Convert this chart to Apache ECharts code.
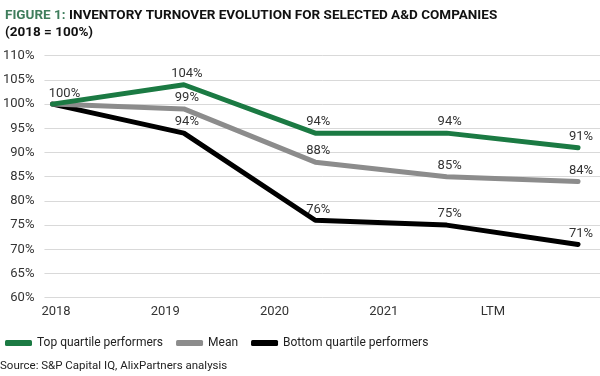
<!DOCTYPE html>
<html>
<head>
<meta charset="utf-8">
<script src="https://cdn.jsdelivr.net/npm/echarts@6/dist/echarts.min.js"></script>
<style>
  html, body { margin: 0; padding: 0; background: #fff; }
  #chart { width: 600px; height: 376px; }
</style>
</head>
<body>
<div id="chart"></div>
<script>
const years = ['2018', '2019', '2020', '2021', 'LTM'];
const topQuartile = [100, 104, 94, 94, 91];
const meanValues = [100, 99, 88, 85, 84];
const bottomQuartile = [100, 94, 76, 75, 71];
const seriesNames = ['Top quartile performers', 'Mean', 'Bottom quartile performers'];

const FONT = "'Roboto', sans-serif";
const chart = echarts.init(document.getElementById('chart'));

// points sit on a value axis so the grid lines can run past the last point
function toPairs(values) {
  return values.map((v, i) => [i, v]);
}

function lineSeries(name, data, color, z, showFirst) {
  return {
    name,
    type: 'line',
    data: toPairs(data),
    z,
    symbol: 'circle',
    symbolSize: 1,
    lineStyle: { color, width: 5, cap: 'round', join: 'round' },
    itemStyle: { color },
    label: {
      show: true,
      position: 'top',
      distance: 4,
      fontFamily: FONT,
      fontSize: 13,
      color: '#333',
      formatter(p) {
        if (p.dataIndex === 0 && !showFirst) return '';
        return `${p.value[1]}%`;
      },
    },
    labelLayout(params) {
      if (params.dataIndex === 0) {
        return { dx: 12, dy: 1 };
      }
      return { dx: 3 };
    },
  };
}

const option = {
  animation: false,
  title: {
    left: 0,
    top: 2,
    text: '{g|FIGURE 1: }{b|INVENTORY TURNOVER EVOLUTION FOR SELECTED A&D COMPANIES}\n{b|(2018 = 100%)}',
    textStyle: {
      rich: {
        g: { fontFamily: FONT, fontWeight: 'bold', fontSize: 13.5, color: '#3f7d5c', lineHeight: 17 },
        b: { fontFamily: FONT, fontWeight: 'bold', fontSize: 13.5, color: '#111', lineHeight: 17 },
      },
    },
  },
  legend: {
    left: 0,
    top: 332,
    data: seriesNames,
    icon: 'roundRect',
    itemWidth: 27,
    itemHeight: 6,
    itemGap: 13,
    textStyle: { fontFamily: FONT, fontSize: 12, color: '#222' },
  },
  graphic: [{
    type: 'text',
    left: 0,
    top: 360,
    style: { text: 'Source: S&P Capital IQ, AlixPartners analysis', fontFamily: FONT, fontSize: 11.5, fill: '#222' },
  }],
  grid: [
    { left: 44, right: 0, top: 55.7, bottom: 78.3 },
    { left: 56, right: 107, top: 55.7, bottom: 78.3 },
  ],
  xAxis: [
    {
      type: 'value',
      gridIndex: 0,
      min: -0.061,
      max: 4.167,
      show: false,
      splitLine: { show: false },
    },
    {
      type: 'category',
      data: years,
      boundaryGap: false,
      gridIndex: 1,
      axisLine: { show: false },
      axisTick: { show: false },
      axisLabel: { fontFamily: FONT, fontSize: 13, color: '#333', margin: 8 },
    },
  ],
  yAxis: [
    {
      type: 'value',
      gridIndex: 0,
      min: 60,
      max: 110,
      interval: 5,
      axisLine: { show: false },
      axisTick: { show: false },
      axisLabel: { fontFamily: FONT, fontSize: 13, color: '#333', margin: 10, formatter: '{value}%' },
      splitLine: { lineStyle: { color: '#d9d9d9', width: 1 } },
    },
    { type: 'value', gridIndex: 1, show: false, min: 60, max: 110 },
  ],
  series: [
    lineSeries(seriesNames[0], topQuartile, '#1b7a43', 5, true),
    lineSeries(seriesNames[1], meanValues, '#8c8c8c', 4, false),
    lineSeries(seriesNames[2], bottomQuartile, '#000000', 3, false),
  ],
};

chart.setOption(option);
</script>
</body>
</html>
